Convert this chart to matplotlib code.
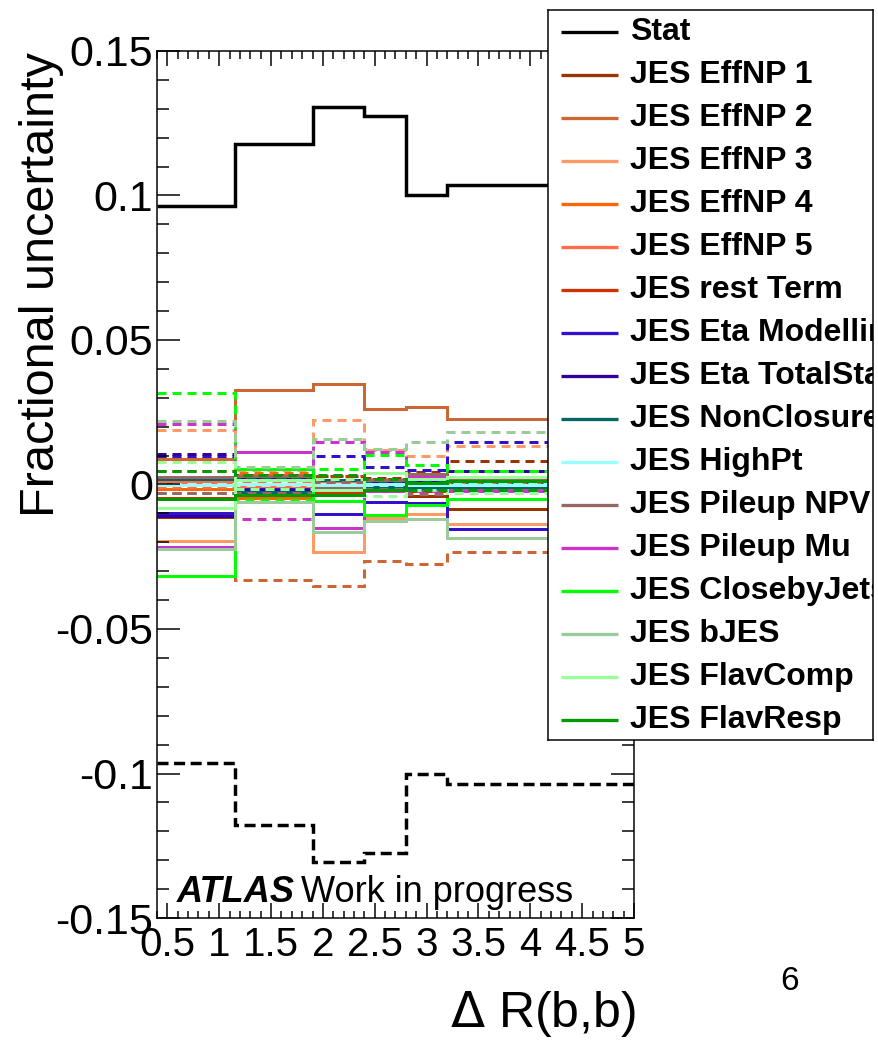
import numpy as np
import matplotlib
matplotlib.use("Agg")
import matplotlib.pyplot as plt
from matplotlib.patches import Rectangle
from matplotlib.ticker import MultipleLocator, FixedLocator, FixedFormatter

PX = 72.0 / 100  # points per pixel at dpi 100
LW = 3 * PX

plt.rcParams['font.family'] = ['Liberation Sans', 'DejaVu Sans']

# bin edges in Delta R(b,b)
edges = [0.4, 1.15, 1.9, 2.4, 2.8, 3.2, 5.0]

stat = [0.0965, 0.1178, 0.1305, 0.1274, 0.1002, 0.1036]

labels = ["Stat", "JES EffNP 1", "JES EffNP 2", "JES EffNP 3", "JES EffNP 4",
          "JES EffNP 5", "JES rest Term", "JES Eta Modelling", "JES Eta TotalStat",
          "JES NonClosure", "JES HighPt", "JES Pileup NPV", "JES Pileup Mu",
          "JES ClosebyJets", "JES bJES", "JES FlavComp", "JES FlavResp"]
colors = ["#000000", "#993300", "#cc6633", "#ff9966", "#ff6600", "#ff6c47",
          "#cc3300", "#3311cc", "#330099", "#006666", "#99ffff", "#996666",
          "#cc33cc", "#00ff00", "#99cc99", "#99ff99", "#009900"]

# up (solid) and down (dashed) shifts per bin
effnp1_up = [-0.0112, -0.0025, -0.0030, -0.0020, -0.0040, -0.0085]
effnp1_dn = [0.0090, 0.0033, 0.0030, 0.0022, 0.0044, 0.0081]
effnp2_up = [0.0088, 0.0327, 0.0348, 0.0261, 0.0269, 0.0226]
effnp2_dn = [-0.0110, -0.0330, -0.0351, -0.0265, -0.0276, -0.0232]
effnp3_up = [-0.0196, -0.0040, -0.0232, -0.0117, -0.0102, -0.0138]
effnp3_dn = [0.0189, 0.0050, 0.0223, 0.0120, 0.0099, 0.0133]
effnp4_up = [-0.0016, -0.0048, -0.0012, -0.0015, -0.0020, 0.0020]
effnp4_dn = [0.0012, 0.0040, 0.0010, 0.0015, 0.0022, -0.0019]
effnp5_up = [0.0008, -0.0010, 0.0008, 0.0006, 0.0007, 0.0006]
effnp5_dn = [-0.0008, 0.0010, -0.0008, -0.0006, -0.0007, -0.0006]
rest_up = [-0.0045, -0.0026, -0.0030, -0.0018, -0.0021, -0.0012]
rest_dn = [0.0048, 0.0025, 0.0030, 0.0020, 0.0022, 0.0012]
etamod_up = [-0.0100, 0.0055, -0.0103, -0.0060, -0.0063, -0.0154]
etamod_dn = [0.0098, -0.0017, 0.0099, 0.0060, 0.0050, 0.0148]
etastat_up = [-0.0108, -0.0020, -0.0015, -0.0012, -0.0010, -0.0010]
etastat_dn = [0.0105, 0.0018, 0.0014, 0.0012, 0.0010, 0.0047]
nonclos_up = [0.0020, -0.0025, -0.0019, -0.0010, -0.0012, -0.0008]
nonclos_dn = [-0.0030, 0.0022, 0.0016, 0.0010, 0.0012, 0.0008]
highpt_up = [-0.0003, 0.0000, -0.0002, 0.0002, -0.0001, -0.0002]
highpt_dn = [0.0003, -0.0001, 0.0002, -0.0002, 0.0001, 0.0002]
npv_up = [0.0027, 0.0030, -0.0012, 0.0015, 0.0035, 0.0022]
npv_dn = [-0.0030, -0.0028, 0.0010, -0.0015, -0.0033, -0.0020]
mu_up = [-0.0215, 0.0114, -0.0152, -0.0022, 0.0025, 0.0027]
mu_dn = [0.0210, -0.0118, 0.0148, 0.0112, -0.0022, -0.0024]
closeby_up = [-0.0316, 0.0054, -0.0056, -0.0106, -0.0071, -0.0051]
closeby_dn = [0.0316, -0.0055, 0.0053, 0.0102, 0.0067, 0.0047]
bjes_up = [-0.0222, -0.0062, -0.0163, -0.0125, -0.0120, -0.0184]
bjes_dn = [0.0220, 0.0060, 0.0156, 0.0123, 0.0148, 0.0183]
flavcomp_up = [-0.0082, 0.0016, -0.0019, 0.0040, 0.0020, 0.0027]
flavcomp_dn = [0.0079, -0.0016, 0.0020, -0.0040, -0.0020, -0.0030]
flavresp_up = [-0.0051, -0.0036, -0.0036, -0.0019, 0.0004, 0.0012]
flavresp_dn = [0.0048, 0.0033, 0.0033, 0.0020, -0.0019, -0.0019]

ups = [stat, effnp1_up, effnp2_up, effnp3_up, effnp4_up, effnp5_up, rest_up,
       etamod_up, etastat_up, nonclos_up, highpt_up, npv_up, mu_up,
       closeby_up, bjes_up, flavcomp_up, flavresp_up]
dns = [[-v for v in stat], effnp1_dn, effnp2_dn, effnp3_dn, effnp4_dn, effnp5_dn,
       rest_dn, etamod_dn, etastat_dn, nonclos_dn, highpt_dn, npv_dn, mu_dn,
       closeby_dn, bjes_dn, flavcomp_dn, flavresp_dn]

yticks = [-0.15, -0.1, -0.05, 0, 0.05, 0.1, 0.15]
ytick_labels = ["-0.15", "-0.1", "-0.05", "0", "0.05", "0.1", "0.15"]
xticks = [0.5, 1, 1.5, 2, 2.5, 3, 3.5, 4, 4.5, 5]
xtick_labels = ["0.5", "1", "1.5", "2", "2.5", "3", "3.5", "4", "4.5", "5"]

W, H = 879, 1040
fig = plt.figure(figsize=(W / 100, H / 100), dpi=100)
ax = fig.add_axes([157 / W, 1 - 918 / H, 477 / W, 867 / H])

for i in range(len(labels)):
    lw = LW * 1.15 if i == 0 else LW
    dash = (0, (3.2, 1.6)) if i == 0 else (0, (3, 2))
    ax.stairs(ups[i], edges, color=colors[i], lw=lw, baseline=None)
    ax.stairs(dns[i], edges, color=colors[i], lw=lw, ls=dash, baseline=None)

ax.set_xlim(0.4, 5.0)
ax.set_ylim(-0.15, 0.15)
ax.yaxis.set_major_locator(FixedLocator(yticks))
ax.yaxis.set_major_formatter(FixedFormatter(ytick_labels))
ax.yaxis.set_minor_locator(MultipleLocator(0.01))
ax.xaxis.set_major_locator(FixedLocator(xticks))
ax.xaxis.set_major_formatter(FixedFormatter(xtick_labels))
ax.xaxis.set_minor_locator(MultipleLocator(0.1))
ax.tick_params(axis='both', which='both', direction='in', top=True, right=True,
               width=1.5 * PX, color='black')
ax.tick_params(axis='y', which='major', length=23 * PX, pad=4 * PX, labelsize=31)
ax.tick_params(axis='y', which='minor', length=12 * PX)
ax.tick_params(axis='x', which='major', length=15 * PX, pad=8 * PX, labelsize=29)
ax.tick_params(axis='x', which='minor', length=7.5 * PX)
for sp in ax.spines.values():
    sp.set_linewidth(1.5 * PX)

fig.text(42 / W, 1 - 52 / H, "Fractional uncertainty", rotation=90,
         ha='center', va='top', fontsize=35)
fig.text(636 / W, 1 - 1027 / H, r"$\Delta$ R(b,b)", ha='right', va='baseline',
         fontsize=36)
fig.text(790 / W, 1 - 990 / H, "6", ha='center', va='baseline', fontsize=24)

# white pave behind the ATLAS label
fig.add_artist(Rectangle((170 / W, 1 - 903 / H), 413 / W, 35 / H,
                         transform=fig.transFigure, facecolor='white',
                         edgecolor='none', zorder=5))
fig.text(177 / W, 1 - 902 / H, "ATLAS", fontsize=26, fontweight='bold',
         style='italic', zorder=6)
fig.text(301 / W, 1 - 902 / H, "Work in progress", fontsize=26, zorder=6)

# legend box
lg = fig.add_axes([548 / W, 1 - 740 / H, 325 / W, 730 / H])
lg.set_xlim(548, 873)
lg.set_ylim(740, 10)
lg.set_xticks([])
lg.set_yticks([])
for sp in lg.spines.values():
    sp.set_linewidth(1.5 * PX)
for i, lab in enumerate(labels):
    yc = 31.7 + 43.0 * i
    lg.plot([561, 618], [yc, yc], color=colors[i], lw=LW * 1.1,
            solid_capstyle='butt')
    lg.text(630, yc, lab, fontsize=23, fontweight='bold', va='center',
            ha='left', clip_on=True)

fig.savefig("out.png", dpi=100)
